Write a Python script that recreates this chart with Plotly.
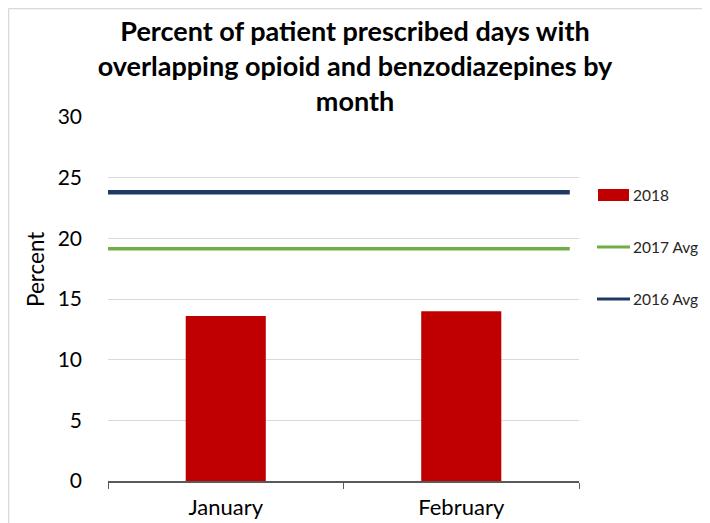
import plotly.graph_objects as go

months = ["January", "February"]
values_2018 = [13.6, 14.0]
avg_2017 = [19.15, 19.15]
avg_2016 = [23.8, 23.8]
y_ticks = [0, 5, 10, 15, 20, 25, 30]
legend_names = ["2018", "2017 Avg", "2016 Avg"]

OFF = 8  # browser body margin
W, H = 702, 515
L, R, T, B = 100, 131, 109, 42
pw, ph = W - L - R, H - T - B

def px(x):
    return (x - OFF - L) / pw

def py(y):
    return (H - B - (y - OFF)) / ph

FONT = "Lato, 'Open Sans', sans-serif"
RED, GREEN, NAVY = "#C00000", "#70AD47", "#1F3864"

fig = go.Figure()
fig.add_trace(go.Bar(
    x=months, y=values_2018, name=legend_names[0],
    marker=dict(color=RED, line=dict(width=0)),
))
fig.add_trace(go.Scatter(
    x=months, y=avg_2017, name=legend_names[1], mode="lines",
    line=dict(color=GREEN, width=3.5), xaxis="x2",
))
fig.add_trace(go.Scatter(
    x=months, y=avg_2016, name=legend_names[2], mode="lines",
    line=dict(color=NAVY, width=4.5), xaxis="x2",
))

shapes = [
    dict(type="line", xref="paper", yref="paper", x0=px(8.5), x1=px(720), y0=py(8.5), y1=py(8.5),
         line=dict(color="#D9D9D9", width=1.5)),
    dict(type="line", xref="paper", yref="paper", x0=px(8.5), x1=px(8.5), y0=py(8.5), y1=py(530),
         line=dict(color="#D9D9D9", width=1.5)),
    # legend symbols
    dict(type="rect", xref="paper", yref="paper", x0=px(598), x1=px(629), y0=py(189), y1=py(201),
         fillcolor=RED, line=dict(width=0)),
    dict(type="line", xref="paper", yref="paper", x0=px(597), x1=px(630), y0=py(247), y1=py(247),
         line=dict(color=GREEN, width=3)),
    dict(type="line", xref="paper", yref="paper", x0=px(597), x1=px(630), y0=py(299), y1=py(299),
         line=dict(color=NAVY, width=3)),
]
annotations = []
for name, yy in zip(legend_names, [195, 247, 299]):
    annotations.append(dict(
        text=name, xref="paper", yref="paper", x=px(631), y=py(yy),
        xanchor="left", yanchor="middle", showarrow=False,
        font=dict(size=15.5, family=FONT, color="#262626"),
    ))
annotations.append(dict(
    text="Percent", xref="paper", yref="paper", x=px(35), y=py(270),
    xanchor="center", yanchor="middle", showarrow=False, textangle=-90,
    font=dict(size=22.5, family=FONT, color="#000000"),
))

fig.update_layout(
    width=W, height=H,
    margin=dict(l=L, r=R, t=T, b=B),
    paper_bgcolor="white", plot_bgcolor="white",
    font=dict(family=FONT, color="#000000"),
    title=dict(
        text="<b>Percent of patient prescribed days with<br>overlapping opioid and benzodiazepines by<br>month</b>",
        x=px(355), xanchor="center", xref="paper", y=1 - 33 / H, yanchor="top",
        font=dict(size=27, family=FONT, color="#000000"),
    ),
    bargap=0.66,
    showlegend=False,
    xaxis=dict(
        type="category", showgrid=False, automargin=False,
        showline=True, linecolor="#595959", linewidth=1.5,
        ticks="outside", tickson="boundaries", ticklen=6, tickcolor="#595959",
        tickfont=dict(size=22, family=FONT), range=[-0.5, 1.5],
        ticklabelstandoff=6,
    ),
    xaxis2=dict(
        type="category", overlaying="x", range=[0, 1.02], visible=False,
    ),
    yaxis=dict(
        range=[0, 30], tickvals=y_ticks, showgrid=True, gridcolor="#D9D9D9",
        gridwidth=1, zeroline=False, showline=False, ticks="", automargin=False,
        tickfont=dict(size=21, family=FONT), ticklabelstandoff=25,
    ),
    shapes=shapes,
    annotations=annotations,
)

fig.write_html("out.html")
